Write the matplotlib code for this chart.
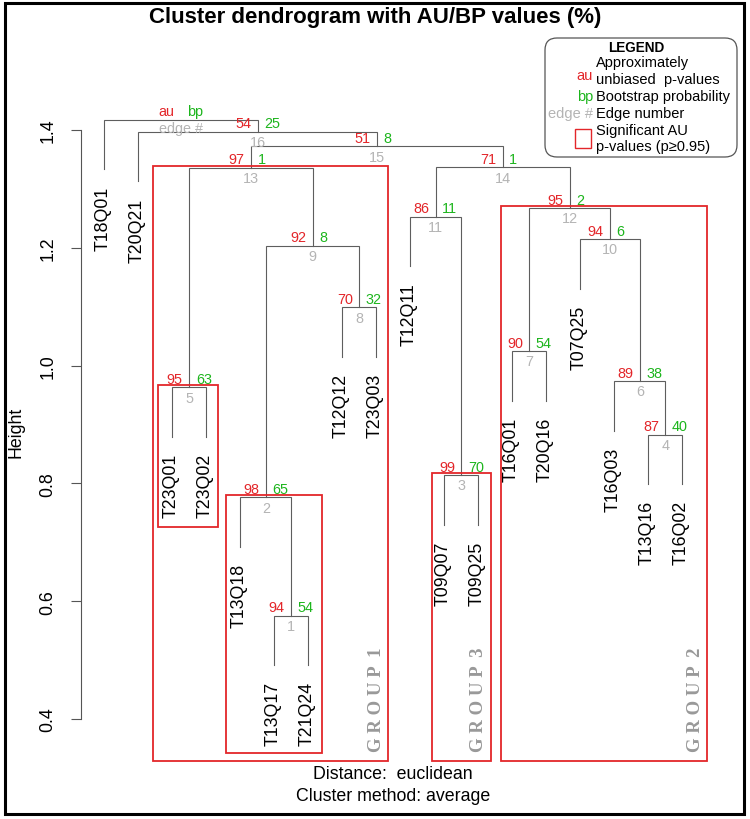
import matplotlib
matplotlib.use("Agg")
import matplotlib.pyplot as plt
import matplotlib.transforms as mtrans
from matplotlib.patches import Rectangle, FancyBboxPatch

plt.rcParams['font.family'] = ['Liberation Sans', 'DejaVu Sans']

# ---------------- data ----------------
leaf_labels = ["T18Q01", "T20Q21", "T23Q01", "T23Q02", "T13Q18", "T13Q17",
               "T21Q24", "T12Q12", "T23Q03", "T12Q11", "T09Q07", "T09Q25",
               "T16Q01", "T20Q16", "T07Q25", "T16Q03", "T13Q16", "T16Q02"]
# hclust-style merges: negative = leaf (1-based, plot order), positive = earlier merge
merge_left = [-6, -5, -11, -17, -3, -16, -13, -8, 2, -15, -10, 7, 5, 11, 13, -2, -1]
merge_right = [-7, 1, -12, -18, -4, 4, -14, -9, 8, 6, 3, 10, 9, 12, 14, 15, 16]
heights = [0.5754, 0.7764, 0.8143, 0.8830, 0.9632, 0.9739, 1.0248, 1.0990,
           1.2036, 1.2150, 1.2528, 1.2676, 1.3360, 1.3368, 1.3720, 1.3971, 1.4175]
au_values = [94, 98, 99, 87, 95, 89, 90, 70, 92, 94, 86, 95, 97, 71, 51, 54]
bp_values = [54, 65, 70, 40, 63, 38, 54, 32, 8, 6, 11, 2, 1, 1, 8, 25]
y_ticks = [0.4, 0.6, 0.8, 1.0, 1.2, 1.4]
# highlighted clusters (edge number) and group captions
box_edges = [13, 5, 2, 3, 12]
group_names = {13: "G R O U P  1", 3: "G R O U P  3", 12: "G R O U P  2"}

# ---------------- styles ----------------
RED = '#E3262A'
GREEN = '#1DB51D'
GRAY = '#B4B4B4'
LINE = '#5E5E5E'
W, H = 750, 820

fig = plt.figure(figsize=(W / 100, H / 100), dpi=100)
fig.patch.set_facecolor('white')

# main axes placed in pixels
ax_l, ax_r, ax_t, ax_b = 81, 705, 100, 770
ax = fig.add_axes([ax_l / W, 1 - ax_b / H, (ax_r - ax_l) / W, (ax_b - ax_t) / H])
ax.set_facecolor('none')
ax.set_xlim(0.3147, 18.664)
ax.set_ylim(0.3151, 1.4526)

def off(dx, dy):
    return mtrans.offset_copy(ax.transData, fig=fig, x=dx, y=dy, units='dots')

n = len(leaf_labels)
hang = 0.1 * (max(heights) - min(heights))
node_x = []

def child_xy(c, h):
    if c < 0:
        return float(-c), h - hang
    return node_x[c - 1], heights[c - 1]

for k in range(len(heights)):
    h = heights[k]
    xl, yl = child_xy(merge_left[k], h)
    xr, yr = child_xy(merge_right[k], h)
    node_x.append((xl + xr) / 2)
    ax.plot([xl, xl, xr, xr], [yl, h, h, yr], color=LINE, lw=0.8,
            solid_joinstyle='miter', clip_on=False, zorder=2)
    for c, cx, cy in ((merge_left[k], xl, yl), (merge_right[k], xr, yr)):
        if c < 0:
            ax.text(cx, cy, leaf_labels[-c - 1], rotation=90, ha='center', va='top',
                    fontsize=12.8, color='black', transform=off(-1, -16), clip_on=False)

# au / bp / edge labels
for k in range(len(heights)):
    x, h = node_x[k], heights[k]
    if k < len(au_values):
        a, b, e = str(au_values[k]), str(bp_values[k]), str(k + 1)
        edy = -10.5
    else:
        a, b, e = "au", "bp", "edge #"
        edy = -8
    ax.text(x, h, a, color=RED, fontsize=10.4, ha='right', va='center',
            transform=off(-6.5, 8.3), clip_on=False)
    ax.text(x, h, b, color=GREEN, fontsize=10.4, ha='left', va='center',
            transform=off(6.5, 8.3), clip_on=False)
    ax.text(x, h, e, color=GRAY, fontsize=10.4, ha='center', va='center',
            transform=off(0, edy), clip_on=False)

# leaves belonging to each edge
def members(c):
    if c < 0:
        return [-c]
    return members(merge_left[c - 1]) + members(merge_right[c - 1])

# box paddings (leaf units) and bottoms
box_pad = {13: (0.56, 0.34, 0.3282), 5: (0.41, 0.33, 0.7255), 2: (0.43, 0.39, 0.3423),
           3: (0.35, 0.36, 0.3282), 12: (0.34, 0.73, 0.3282)}
for e in box_edges:
    m = members(e)
    pl, pr, yb = box_pad[e]
    x0, x1 = min(m) - pl, max(m) + pr
    top = heights[e - 1] + 0.0035
    ax.add_patch(Rectangle((x0, yb), x1 - x0, top - yb, fill=False, edgecolor=RED,
                           lw=1.3, clip_on=False, zorder=3))
    if e in group_names:
        gx = max(m) + (0.37 if e == 12 else 0.0)
        ax.text(gx, yb, group_names[e], rotation=90, ha='center', va='bottom',
                fontsize=13.5, fontweight='bold', color='#999999',
                family=['Liberation Serif', 'DejaVu Serif'],
                transform=off(0, 10), clip_on=False)

# axes styling
for s in ('top', 'right', 'bottom'):
    ax.spines[s].set_visible(False)
ax.spines['left'].set_bounds(y_ticks[0], y_ticks[-1])
ax.spines['left'].set_color('#555555')
ax.spines['left'].set_linewidth(0.8)
ax.set_xticks([])
ax.set_yticks(y_ticks)
ax.set_yticklabels([f"{t:.1f}" for t in y_ticks], rotation=90, va='center')
ax.tick_params(axis='y', length=7.5, width=0.8, color='#555555', pad=10,
               labelsize=12.8)

# overlay in pixel coordinates
ov = fig.add_axes([0, 0, 1, 1])
ov.set_xlim(0, W)
ov.set_ylim(H, 0)
ov.axis('off')
ov.set_facecolor('none')

ov.text(16, 432, "Height", rotation=90, ha='center', va='center', fontsize=12.8)
ov.text(375, 18, "Cluster dendrogram with AU/BP values (%)", ha='center', va='center',
        fontsize=16, fontweight='bold')
ov.text(393, 775, "Distance:  euclidean", ha='center', va='center', fontsize=12.8)
ov.text(393, 797, "Cluster method: average", ha='center', va='center', fontsize=12.8)

# legend
ov.add_patch(FancyBboxPatch((545, 39), 192, 119, boxstyle="round,pad=0,rounding_size=12",
                            fill=False, edgecolor='#555555', lw=0.9))
ov.text(636, 47.5, "LEGEND", ha='center', va='center', fontsize=9.8, fontweight='bold')
ov.text(593, 76, "au", ha='right', va='center', fontsize=10.5, color=RED)
ov.text(596, 63.5, "Approximately", ha='left', va='center', fontsize=10.5)
ov.text(596, 80, "unbiased  p-values", ha='left', va='center', fontsize=10.5)
ov.text(593, 97.5, "bp", ha='right', va='center', fontsize=10.5, color=GREEN)
ov.text(596, 97.5, "Bootstrap probability", ha='left', va='center', fontsize=10.5)
ov.text(593, 114, "edge #", ha='right', va='center', fontsize=10.5, color=GRAY)
ov.text(596, 114, "Edge number", ha='left', va='center', fontsize=10.5)
ov.add_patch(Rectangle((575, 130), 16, 19, fill=False, edgecolor=RED, lw=1.0))
ov.text(596, 130.5, "Significant AU", ha='left', va='center', fontsize=10.5)
ov.text(596, 147, "p-values (p\u22650.95)", ha='left', va='center', fontsize=10.5)

# figure border
ov.add_patch(Rectangle((5, 4), 739, 811, fill=False, edgecolor='black', lw=2.2))

fig.savefig("out.png", dpi=100)
